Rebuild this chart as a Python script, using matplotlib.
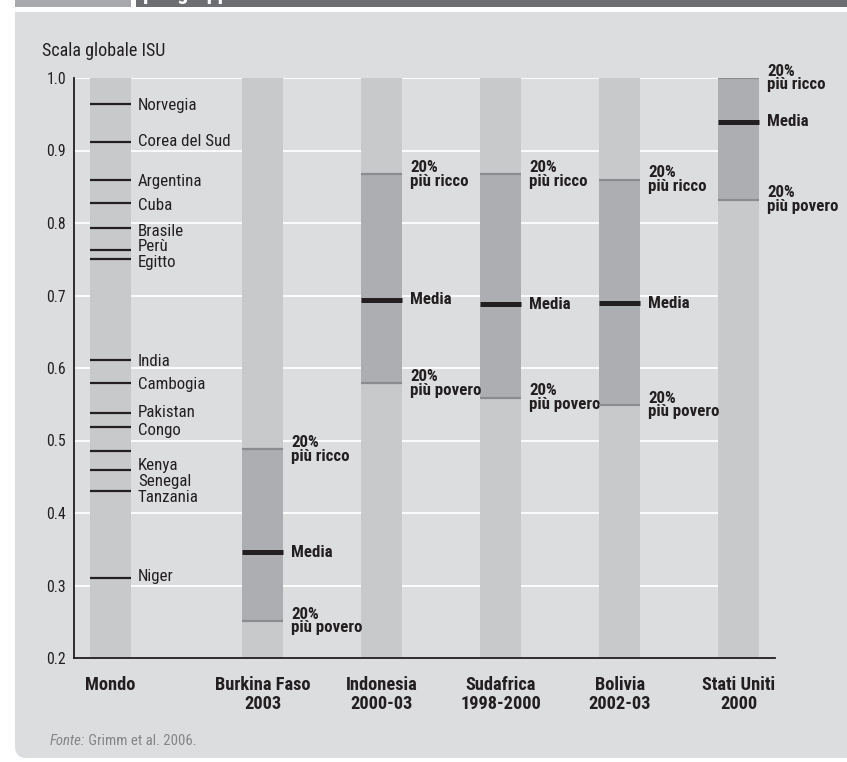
import matplotlib
matplotlib.use('Agg')
import matplotlib.pyplot as plt
import matplotlib.font_manager as fm
from matplotlib.patches import Rectangle, FancyBboxPatch
from matplotlib.transforms import IdentityTransform

# ---------------- data ----------------
world_countries = ['Norvegia', 'Corea del Sud', 'Argentina', 'Cuba', 'Brasile', 'Perù', 'Egitto',
                   'India', 'Cambogia', 'Pakistan', 'Congo', 'Kenya', 'Senegal', 'Tanzania', 'Niger']
world_values = [0.964, 0.912, 0.859, 0.827, 0.793, 0.763, 0.751,
                0.611, 0.579, 0.538, 0.519, 0.485, 0.459, 0.430, 0.310]

categories = ['Mondo', 'Burkina Faso\n2003', 'Indonesia\n2000-03', 'Sudafrica\n1998-2000',
              'Bolivia\n2002-03', 'Stati Uniti\n2000']
poorest_20 = [0.251, 0.579, 0.559, 0.549, 0.832]
mean_isu = [0.346, 0.694, 0.688, 0.689, 0.940]
richest_20 = [0.488, 0.867, 0.867, 0.860, 1.000]

yticks = [0.2, 0.3, 0.4, 0.5, 0.6, 0.7, 0.8, 0.9, 1.0]
label_rich = '20%\npiù ricco'
label_mean = 'Media'
label_poor = '20%\npiù povero'

# ---------------- font choice (prefer a condensed sans) ----------------
entries = fm.fontManager.ttflist
family, stretch = None, 'normal'
for n in ['Liberation Sans Narrow', 'Arial Narrow', 'Roboto Condensed', 'Open Sans Condensed',
          'Noto Sans Condensed', 'DejaVu Sans Condensed', 'Noto Sans Display Condensed']:
    if any(e.name == n for e in entries):
        family = n
        break
if family is None:
    for pref in ['Noto Sans', 'DejaVu Sans', 'Open Sans', 'Roboto', 'Inter', 'Lato']:
        cands = [e for e in entries if e.name == pref and str(e.stretch) in
                 ('condensed', 'semi-condensed', 'extra-condensed')]
        if cands:
            family, stretch = pref, cands[0].stretch
            break
SIZE_SCALE = 1.0
if family is None:
    family = 'Liberation Sans'
    SIZE_SCALE = 0.86
plt.rcParams['font.family'] = [family, 'DejaVu Sans']
plt.rcParams['font.stretch'] = stretch

# ---------------- layout / style ----------------
W, H = 847, 762
positions = [0, 1.28, 2.28, 3.28, 4.28, 5.28]
bar_w = 0.345
# vertical nudges (px, downward) of the stacked world labels
world_label_shift_px = [1, 0, 1, 2, 3, -3, 4, 1, 1, 0, 4, 14, 11, 6, -2]

TXT = '#231f20'
PANEL = '#dcdddf'
BAR_LIGHT = '#c8c9cb'
BAR_DARK = '#adaeb1'
EDGE = '#8b8c8f'
PX = 0.72  # points per pixel at 100 dpi
FS = 12.2 * SIZE_SCALE

fig = plt.figure(figsize=(W / 100, H / 100), dpi=100, facecolor='white')

# background panel + header
panel = FancyBboxPatch((15, H - 758), 900, 800, boxstyle='round,pad=0,rounding_size=12',
                       facecolor=PANEL, edgecolor='none', transform=IdentityTransform(), zorder=-10)
fig.add_artist(panel)
fig.add_artist(Rectangle((0, H - 12), W, 12, facecolor='white', edgecolor='none',
                         transform=IdentityTransform(), zorder=-9))
fig.add_artist(Rectangle((15, H - 7), 116, 12, facecolor='#a7a9ac', edgecolor='none',
                         transform=IdentityTransform(), zorder=-8))
fig.add_artist(Rectangle((136, H - 7), W, 12, facecolor='#6d6e71', edgecolor='none',
                         transform=IdentityTransform(), zorder=-8))
fig.text(143 / W, 1 + 0.5 / H, 'per gruppi', color='white', fontweight='bold', fontsize=16,
         va='baseline', ha='left')

ax = fig.add_axes([74 / W, 1 - 658 / H, 701 / W, 580 / H])
ax.set_facecolor('none')
ax.set_xlim(-0.307, 5.584)
ax.set_ylim(0.2, 1.0)

for s in ['top', 'right']:
    ax.spines[s].set_visible(False)
for s in ['left', 'bottom']:
    ax.spines[s].set_color(TXT)
    ax.spines[s].set_linewidth(1.3)

# grid lines
ax.hlines(yticks[1:], ax.get_xlim()[0], positions[-1], color='white', lw=1.3, zorder=1)

# full-height light bars
ax.bar(positions, [yticks[-1] - yticks[0]] * len(positions), bottom=yticks[0], width=bar_w,
       color=BAR_LIGHT, zorder=2)

# world ticks
x0 = positions[0]
ax.hlines(world_values, x0 - bar_w / 2, x0 + bar_w / 2, color=TXT, lw=1.6, zorder=4)
for name, v, sh in zip(world_countries, world_values, world_label_shift_px):
    ax.annotate(name, xy=(x0 + bar_w / 2, v), xytext=(6.7 * PX, -sh * PX), textcoords='offset points',
                va='center', ha='left', fontsize=FS, color=TXT, annotation_clip=False)

# country bands
cpos = positions[1:]
ax.bar(cpos, [r - p for r, p in zip(richest_20, poorest_20)], bottom=poorest_20, width=bar_w,
       color=BAR_DARK, zorder=3)
for xp, p, m, r in zip(cpos, poorest_20, mean_isu, richest_20):
    ax.hlines([p, r], xp - bar_w / 2, xp + bar_w / 2, color=EDGE, lw=1.6, zorder=4)
    ax.hlines(m, xp - bar_w / 2, xp + bar_w / 2, color=TXT, lw=3.6, zorder=5)
    for txt, yv in ((label_rich, r), (label_mean, m), (label_poor, p)):
        ax.annotate(txt, xy=(xp + bar_w / 2, yv), xytext=(8 * PX, 0), textcoords='offset points',
                    va='center', ha='left', fontsize=FS, fontweight='bold', color=TXT,
                    linespacing=0.9, annotation_clip=False)

ax.set_xticks(positions)
ax.set_xticklabels(categories, fontsize=13.2 * SIZE_SCALE, fontweight='bold', color=TXT,
                   linespacing=1.1)
ax.set_yticks(yticks)
ax.set_yticklabels([f'{v:.1f}' for v in yticks], fontsize=11.3 * SIZE_SCALE, color=TXT)
ax.tick_params(axis='x', length=0, pad=13)
ax.tick_params(axis='y', length=0, pad=5.8)

fig.text(41.7 / W, 1 - 50.5 / H, 'Scala globale ISU', va='center', ha='left',
         fontsize=13.0 * SIZE_SCALE, color=TXT)

t1 = fig.text(50 / W, 1 - 741 / H, 'Fonte:', style='italic', fontsize=10.6 * SIZE_SCALE,
              color='#858587', va='center', ha='left')
ax.annotate(' Grimm et al. 2006.', xy=(1, 0), xycoords=t1, va='bottom', ha='left',
            fontsize=10.6 * SIZE_SCALE, color='#858587', annotation_clip=False)

fig.savefig('out.png', dpi=100, facecolor='white')
